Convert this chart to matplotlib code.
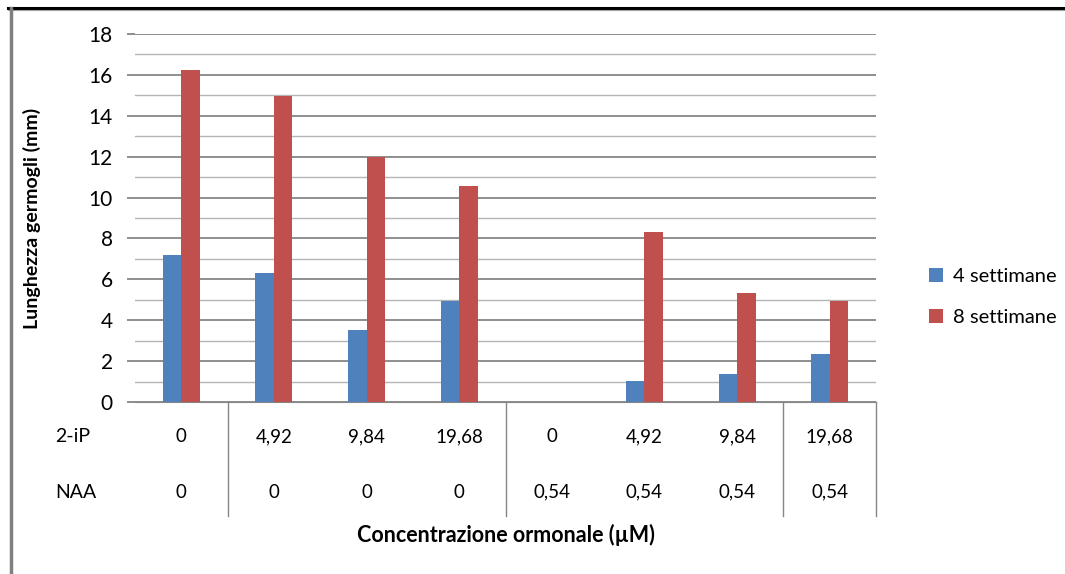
import matplotlib.pyplot as plt
from matplotlib.lines import Line2D
import numpy as np

plt.rcParams['font.family'] = ['Lato', 'DejaVu Sans']

# dati
iP_labels = ['0', '4,92', '9,84', '19,68', '0', '4,92', '9,84', '19,68']
naa_labels = ['0', '0', '0', '0', '0,54', '0,54', '0,54', '0,54']
sett4 = [7.2, 6.3, 3.5, 4.95, 0, 1.05, 1.35, 2.35]
sett8 = [16.25, 14.95, 12.0, 10.55, 0, 8.3, 5.35, 4.95]
dividers = [0.5, 3.5, 6.5, 7.5]  # linee verticali della tabella

W, H = 1065, 574
fig = plt.figure(figsize=(W / 100, H / 100), dpi=100)
ax = fig.add_axes([135 / W, 1 - 402 / H, 741 / W, 368 / H])

x = np.arange(len(sett4))
bw = 0.2
ax.bar(x - bw / 2, sett4, bw, color='#4F81BD', label='4 settimane')
ax.bar(x + bw / 2, sett8, bw, color='#C0504D', label='8 settimane')

ax.set_xlim(-0.5, 7.5)
ax.set_ylim(0, 18)
ax.set_yticks(range(0, 19, 2))
ax.set_yticks(range(1, 18, 2), minor=True)
ax.grid(axis='y', which='major', color='#868686', lw=1.3)
ax.grid(axis='y', which='minor', color='#b4b4b4', lw=1)
ax.set_axisbelow(True)
ax.tick_params(axis='y', which='major', length=6, width=1.3, color='#868686',
               labelsize=15, pad=10)
ax.tick_params(axis='y', which='minor', length=0)
ax.set_xticks([])
for s in ['top', 'right', 'left']:
    ax.spines[s].set_visible(False)
ax.spines['bottom'].set_color('#868686')

# tabella sotto l'asse x
tr = ax.get_xaxis_transform()
for i in range(len(x)):
    ax.text(x[i], -0.095, iP_labels[i], transform=tr, ha='center', va='center', fontsize=13.5)
    ax.text(x[i], -0.245, naa_labels[i], transform=tr, ha='center', va='center', fontsize=13.5)
for xd in dividers:
    ax.plot([xd, xd], [0, -0.31], transform=tr, color='#868686', lw=1, clip_on=False)

fig.text(55 / W, 1 - 437 / H, '2-iP', va='center', fontsize=14)
fig.text(55 / W, 1 - 492 / H, 'NAA', va='center', fontsize=14)
fig.text(506 / W, 1 - 535 / H, 'Concentrazione ormonale (µM)', ha='center', va='center',
         fontweight='bold', fontsize=15.5)
fig.text(32 / W, 1 - 218 / H, 'Lunghezza germogli (mm)', rotation=90, ha='center',
         va='center', fontweight='bold', fontsize=14)

ax.legend(loc='center left', bbox_to_anchor=(911 / W, 1 - 297 / H), bbox_transform=fig.transFigure,
          frameon=False, handlelength=0.7, handleheight=0.7, labelspacing=1.2,
          handletextpad=0.5, fontsize=14.5)

# cornice
fig.add_artist(Line2D([8 / W, 1], [1 - 8 / H] * 2, color='black', lw=2.2))
fig.add_artist(Line2D([8 / W, 1], [1 - 10 / H] * 2, color='#a0a0a0', lw=0.8))
fig.add_artist(Line2D([10.5 / W] * 2, [0, 1 - 8 / H], color='#808080', lw=2.5))

fig.savefig('out.png', dpi=100)
